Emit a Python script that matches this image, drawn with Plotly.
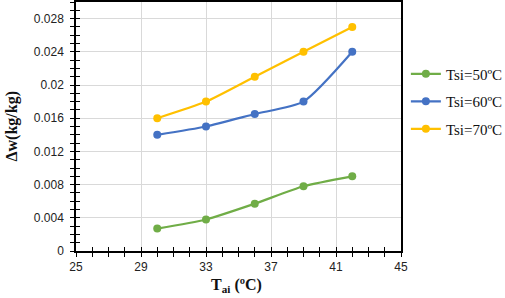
import plotly.graph_objects as go

tai = [30, 33, 36, 39, 42]
dw_50 = [0.0027, 0.0038, 0.0057, 0.0078, 0.0090]
dw_60 = [0.0140, 0.0150, 0.0165, 0.0180, 0.0240]
dw_70 = [0.0160, 0.0180, 0.0210, 0.0240, 0.0270]
series_names = ["Tsi=50ºC", "Tsi=60ºC", "Tsi=70ºC"]
colors = ["#70AD47", "#4472C4", "#FFC000"]
x_ticks = [25, 29, 33, 37, 41, 45]
y_ticks = [0, 0.004, 0.008, 0.012, 0.016, 0.02, 0.024, 0.028]
y_tick_text = ["0", "0.004", "0.008", "0.012", "0.016", "0.02", "0.024", "0.028"]

fig = go.Figure()
for i, (name, ys, c) in enumerate(zip(series_names, [dw_50, dw_60, dw_70], colors)):
    fig.add_trace(go.Scatter(
        x=tai, y=ys, name=name, mode="lines+markers", legendgroup=f"g{i}",
        line=dict(color=c, width=2.2, shape="spline", smoothing=0.6),
        marker=dict(color=c, size=8),
    ))

serif = "Liberation Serif, Times New Roman, serif"
tickfont = dict(family="Liberation Sans, Arial, sans-serif", size=12, color="#222")
fig.update_layout(
    width=505, height=298,
    margin=dict(l=76, r=104, t=2, b=47, autoexpand=False),
    paper_bgcolor="white", plot_bgcolor="white",
    showlegend=True,
    legend=dict(x=1.015, xanchor="left", y=0.6, yanchor="middle",
                font=dict(family=serif, size=15, color="#111"),
                tracegroupgap=5, itemwidth=30),
    xaxis=dict(range=[25, 45], tickmode="array", tickvals=x_ticks,
               showgrid=True, gridcolor="#d9d9d9", gridwidth=1,
               showline=True, linecolor="black", linewidth=1.5, mirror=True,
               ticks="outside", ticklen=4, tickcolor="black", tickwidth=1.2,
               minor=dict(dtick=1, ticks="outside", ticklen=4, tickcolor="black", showgrid=False),
               tickfont=tickfont, zeroline=False, automargin=False),
    yaxis=dict(range=[0, 0.030], tickmode="array", tickvals=y_ticks, ticktext=y_tick_text,
               showgrid=True, gridcolor="#d9d9d9", gridwidth=1,
               showline=True, linecolor="black", linewidth=1.5, mirror=True,
               ticks="outside", ticklen=4, tickcolor="black", tickwidth=1.2,
               minor=dict(dtick=0.001, ticks="outside", ticklen=4, tickcolor="black", showgrid=False),
               tickfont=tickfont, zeroline=False, automargin=False, ticklabelstandoff=4),
    xaxis2=dict(overlaying="x", range=[25, 45], tickmode="array", tickvals=x_ticks,
                showticklabels=False, showgrid=False, zeroline=False, showline=False,
                ticks="inside", ticklen=4, tickcolor="black", tickwidth=1.2,
                minor=dict(dtick=1, ticks="inside", ticklen=4, tickcolor="black", showgrid=False),
                side="bottom", anchor="y", automargin=False),
    yaxis2=dict(overlaying="y", range=[0, 0.030], tickmode="array", tickvals=y_ticks,
                showticklabels=False, showgrid=False, zeroline=False, showline=False,
                ticks="inside", ticklen=4, tickcolor="black", tickwidth=1.2,
                minor=dict(dtick=0.001, ticks="inside", ticklen=4, tickcolor="black", showgrid=False),
                side="left", anchor="x", automargin=False),
    annotations=[
        dict(text="<b>T<sub>ai</sub> (ºC)</b>", xref="paper", yref="paper", x=0.495, y=-0.14,
             xanchor="center", yanchor="middle", showarrow=False,
             font=dict(family=serif, size=16, color="#111")),
        dict(text="<b>Δw(kg/kg)</b>", xref="paper", yref="paper", x=-0.2, y=0.5,
             xanchor="center", yanchor="middle", showarrow=False, textangle=-90,
             font=dict(family=serif, size=16, color="#111")),
    ],
)
fig.add_trace(go.Scatter(x=[None], y=[None], xaxis="x2", yaxis="y2", showlegend=False, hoverinfo="skip"))
fig.write_html("out.html", config={"displayModeBar": False},
               post_script="document.body.style.margin='0';document.body.style.overflow='hidden';")
